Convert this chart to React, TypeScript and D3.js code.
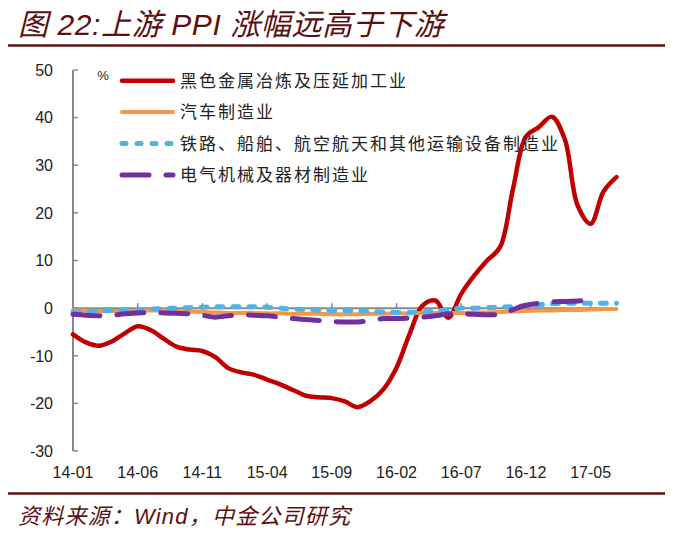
import * as d3 from 'd3'

const months = [
  '14-01', '14-02', '14-03', '14-04', '14-05', '14-06', '14-07', '14-08', '14-09', '14-10', '14-11', '14-12',
  '15-01', '15-02', '15-03', '15-04', '15-05', '15-06', '15-07', '15-08', '15-09', '15-10', '15-11', '15-12',
  '16-01', '16-02', '16-03', '16-04', '16-05', '16-06', '16-07', '16-08', '16-09', '16-10', '16-11', '16-12',
  '17-01', '17-02', '17-03', '17-04', '17-05', '17-06', '17-07'
]
const tickMonths = ['14-01', '14-06', '14-11', '15-04', '15-09', '16-02', '16-07', '16-12', '17-05']
const yTicks = [-30, -20, -10, 0, 10, 20, 30, 40, 50]

// 黑色金属冶炼及压延加工业
const steel = [
  -5.5, -7.2, -7.9, -7.0, -5.3, -3.8, -4.6, -6.4, -8.1, -8.7, -9.0, -10.3,
  -12.6, -13.5, -14.0, -15.0, -16.0, -17.2, -18.4, -18.7, -18.9, -19.6, -20.8, -19.5,
  -17.0, -12.5, -5.5, 0.5, 1.6, -2.0, 3.0, 6.8, 10.0, 12.8, 25.0, 36.0,
  38.0, 40.2, 35.5, 21.5, 17.7, 24.5, 27.5
]
// 汽车制造业
const auto = [
  -0.5, -0.5, -0.6, -0.6, -0.6, -0.5, -0.5, -0.5, -0.6, -0.7, -0.8, -0.9,
  -1.0, -1.0, -1.0, -1.1, -1.1, -1.2, -1.2, -1.2, -1.3, -1.3, -1.3, -1.2,
  -1.2, -1.1, -1.1, -1.0, -1.0, -1.0, -1.0, -0.9, -0.9, -0.8, -0.7, -0.6,
  -0.5, -0.5, -0.4, -0.4, -0.3, -0.2, -0.2
]
// 铁路、船舶、航空航天和其他运输设备制造业
const transport = [
  -0.7, -0.7, -0.6, -0.5, -0.4, -0.4, -0.2, -0.1, 0.0, 0.1, 0.2, 0.3,
  0.3, 0.3, 0.3, 0.2, 0.0, -0.2, -0.3, -0.4, -0.5, -0.5, -0.6, -0.7,
  -0.8, -0.9, -0.9, -0.8, -0.6, -0.3, 0.0, 0.0, 0.1, 0.2, 0.3, 0.5,
  0.7, 0.9, 1.0, 1.0, 1.0, 1.0, 1.0
]
// 电气机械及器材制造业 (to 17-05)
const electric = [
  -1.3, -1.5, -1.6, -1.5, -1.2, -1.0, -1.0, -1.0, -1.1, -1.2, -1.5, -1.9,
  -1.6, -1.4, -1.5, -1.6, -1.9, -2.2, -2.4, -2.6, -2.8, -2.9, -2.9, -2.6,
  -2.2, -2.2, -2.1, -1.9, -1.6, -1.2, -1.2, -1.3, -1.4, -1.3, -0.3, 0.6,
  1.0, 1.3, 1.4, 1.5, 1.6
]

const series = [
  { name: '黑色金属冶炼及压延加工业', values: steel, color: '#c00000', width: 4.5, dash: null as string | null, legendDash: null as string | null },
  { name: '汽车制造业', values: auto, color: '#f79646', width: 4, dash: null as string | null, legendDash: null as string | null },
  { name: '铁路、船舶、航空航天和其他运输设备制造业', values: transport, color: '#4fb3e8', width: 5, dash: '6 10', legendDash: '4 11' },
  { name: '电气机械及器材制造业', values: electric, color: '#7030a0', width: 5, dash: '27 17', legendDash: '27 17' }
]

const W = 679
const H = 535
const dark = '#5a1010'

export default function App() {
  const x = d3.scalePoint<string>().domain(months).range([73, 616.5])
  const y = d3.scaleLinear().domain([-30, 50]).range([451, 70])
  const line = d3
    .line<number>()
    .x((_, i) => x(months[i]) as number)
    .y((d) => y(d))
    .curve(d3.curveCatmullRom.alpha(0.5))

  const x0 = x(months[0]) as number
  const x1 = x(months[months.length - 1]) as number
  const axisColor = '#888888'
  const sans = '"Liberation Sans", Arial, "Noto Sans CJK SC", sans-serif'
  const cjk = '"Noto Sans CJK SC", "Liberation Sans", sans-serif'

  return (
    <svg width={W} height={H} style={{ position: 'absolute', left: 0, top: 0, background: '#fff' }}>
      {/* title */}
      <text x={18} y={35} fill={dark} fontSize={30} letterSpacing={0.6} fontStyle="italic" fontFamily={sans}>
        图 22:上游 PPI 涨幅远高于下游
      </text>
      <line x1={8} x2={665} y1={45.5} y2={45.5} stroke={dark} strokeWidth={2.5} />

      {/* y axis */}
      <line x1={x0} x2={x0} y1={y(50)} y2={y(-30)} stroke={axisColor} strokeWidth={2} />
      {yTicks.map((t) => (
        <g key={t}>
          <line x1={x0} x2={x0 + 5} y1={y(t)} y2={y(t)} stroke={axisColor} strokeWidth={1.5} />
          <text x={53} y={y(t)} dy="0.36em" textAnchor="end" fontSize={16} fontFamily={sans} fill="#222">
            {t}
          </text>
        </g>
      ))}
      <text x={103} y={75} dy="0.35em" textAnchor="middle" fontSize={13} fontFamily={sans} fill="#222">
        %
      </text>

      {/* x axis */}
      <line x1={x0} x2={x1} y1={y(0)} y2={y(0)} stroke={axisColor} strokeWidth={2} />
      {tickMonths.map((m) => (
        <g key={m}>
          {m !== months[0] && (
            <line x1={x(m)} x2={x(m)} y1={y(0)} y2={y(0) - 5} stroke={axisColor} strokeWidth={1.5} />
          )}
          <text x={x(m)} y={478} textAnchor="middle" fontSize={16} fontFamily={sans} fill="#222">
            {m}
          </text>
        </g>
      ))}

      {/* series */}
      {series.map((s) => (
        <path
          key={s.name}
          d={line(s.values) as string}
          fill="none"
          stroke={s.color}
          strokeWidth={s.width}
          strokeDasharray={s.dash ?? undefined}
          strokeLinecap="round"
          strokeLinejoin="round"
        />
      ))}

      {/* legend */}
      {series.map((s, i) => {
        const ly = 80.7 + i * 31.4
        return (
          <g key={s.name}>
            <line
              x1={122}
              x2={173}
              y1={ly}
              y2={ly}
              stroke={s.color}
              strokeWidth={s.width}
              strokeDasharray={s.legendDash ?? undefined}
              strokeLinecap="round"
            />
            <text x={180} y={ly} dy="0.36em" fontSize={17} letterSpacing={2} fontFamily={cjk} fill="#222">
              {s.name}
            </text>
          </g>
        )
      })}

      {/* footer */}
      <line x1={8} x2={665} y1={493.5} y2={493.5} stroke={dark} strokeWidth={2.5} />
      <text x={18} y={524} fill={dark} fontSize={22} letterSpacing={1.2} fontStyle="italic" fontFamily={sans}>
        资料来源：Wind，中金公司研究
      </text>
    </svg>
  )
}
